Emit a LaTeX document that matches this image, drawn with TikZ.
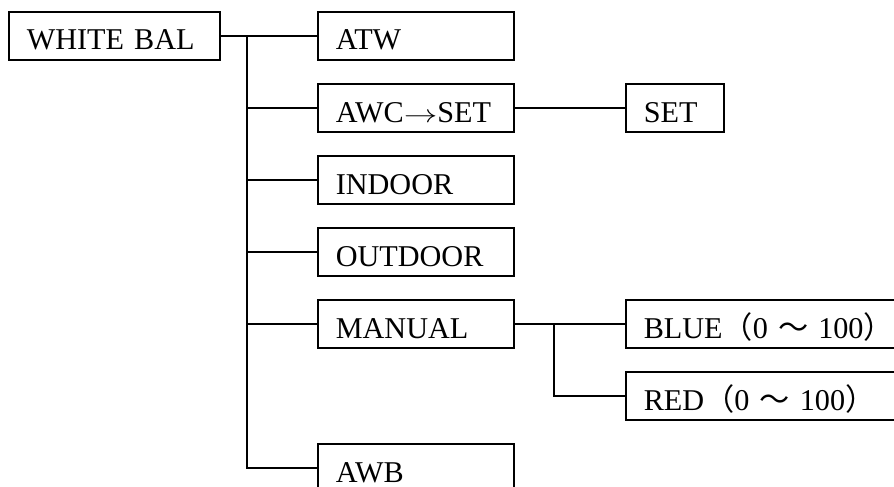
\documentclass[tikz,border=0pt]{standalone}
\usepackage{fontspec}
\setmainfont{Liberation Serif}
\newfontfamily\cjk{Noto Sans CJK JP}
\begin{document}
\begin{tikzpicture}[x=1pt,y=-1pt,
  line width=1.6pt,
  menubox/.style={draw, line width=1.6pt, anchor=west, minimum height=48pt,
    inner xsep=18pt, inner ysep=0pt, align=left, text height=28pt, text depth=0pt,
    font=\fontsize{30.2}{34}\selectfont},
  conn/.style={line width=1.6pt}]
\useasboundingbox (0,0) rectangle (894,487);
\clip (0,0) rectangle (894,487);
\node[menubox, text width=175pt] (wb) at (8,36) {WHITE BAL};
\node[menubox, text width=160pt] (atw) at (317,36) {ATW};
\node[menubox, text width=160pt] (awc) at (317,108) {AWC\scalebox{1.35}[1]{$\rightarrow$}SET};
\node[menubox, text width=160pt] (indoor) at (317,180) {INDOOR};
\node[menubox, text width=160pt] (outdoor) at (317,252) {OUTDOOR};
\node[menubox, text width=160pt] (manual) at (317,324) {MANUAL};
\node[menubox, text width=160pt] (awb) at (317,468) {AWB};
\node[menubox, text width=62pt] (set) at (625,108) {SET};
\node[menubox, text width=250pt] (blue) at (625,324) {BLUE{\cjk （}0 {\cjk ～} 100{\cjk ）}};
\node[menubox, text width=250pt] (red) at (625,396) {RED{\cjk （}0 {\cjk ～} 100{\cjk ）}};
\coordinate (trunk) at (247,36);
\coordinate (subtrunk) at (554,324);
\draw[conn] (wb.east) -- (atw.west);
\draw[conn] (trunk) |- (awb.west);
\draw[conn] (trunk |- awc.west) -- (awc.west);
\draw[conn] (trunk |- indoor.west) -- (indoor.west);
\draw[conn] (trunk |- outdoor.west) -- (outdoor.west);
\draw[conn] (trunk |- manual.west) -- (manual.west);
\draw[conn] (awc.east) -- (set.west);
\draw[conn] (manual.east) -- (blue.west);
\draw[conn] (subtrunk) |- (red.west);
\end{tikzpicture}
\end{document}
